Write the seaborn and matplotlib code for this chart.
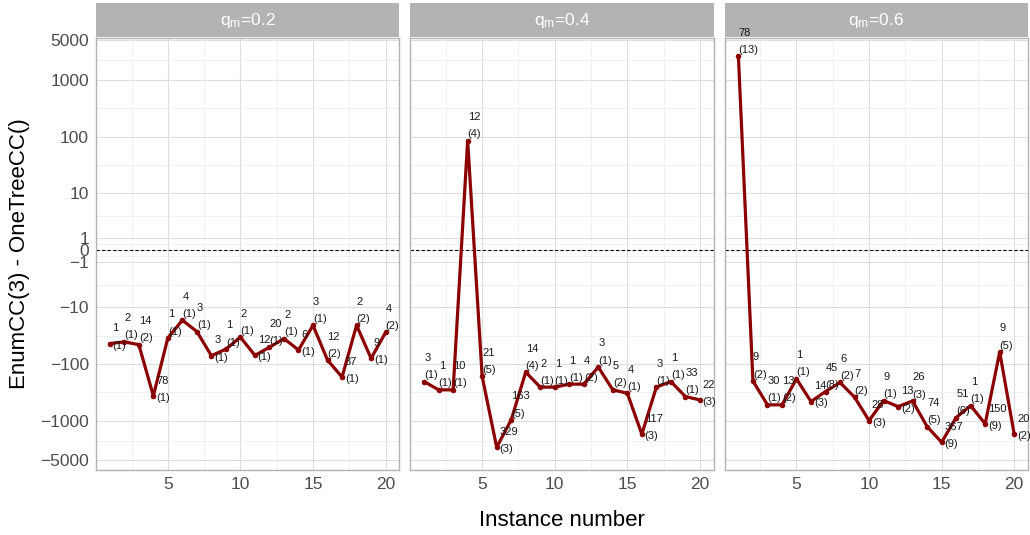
import numpy as np
import pandas as pd
import matplotlib
matplotlib.use("Agg")
import matplotlib.pyplot as plt
from matplotlib.patches import Rectangle
import seaborn as sns

# ---------------- data ----------------
instances = list(range(1, 21))
panel_names = ["0.2", "0.4", "0.6"]

diff_q02 = [-44, -41, -46, -366, -35, -17, -27, -72, -55, -34,
            -71, -51, -36, -57, -21, -86, -171, -21, -80, -28]
top_q02 = [1, 2, 14, 78, 1, 4, 3, 3, 1, 2, 12, 20, 2, 6, 3, 12, 37, 2, 9, 4]
cnt_q02 = [1, 1, 2, 1, 1, 1, 1, 1, 1, 1, 1, 1, 1, 1, 1, 2, 1, 2, 1, 2]

diff_q04 = [-205, -287, -287, 85, -167, -2939, -970, -140, -257, -257,
            -228, -228, -114, -287, -329, -1733, -257, -205, -377, -431]
top_q04 = [3, 1, 10, 12, 21, 329, 163, 14, 2, 1, 1, 4, 3, 5, 4, 117, 3, 1, 33, 22]
cnt_q04 = [1, 1, 1, 4, 5, 3, 5, 4, 1, 1, 1, 2, 1, 2, 1, 3, 1, 1, 1, 3]

diff_q06 = [2600, -200, -527, -527, -184, -461, -307, -213, -386, -997,
            -443, -565, -450, -1273, -2400, -883, -543, -1140, -62, -1733]
top_q06 = [78, 9, 30, 13, 1, 14, 45, 6, 7, 28, 9, 13, 26, 74, 367, 51, 1, 150, 9, 20]
cnt_q06 = [13, 2, 1, 2, 1, 3, 8, 2, 2, 3, 1, 2, 3, 5, 9, 6, 1, 9, 5, 2]

y_breaks = [-5000, -1000, -100, -10, -1, 0, 1, 10, 100, 1000, 5000]
y_labels = ["\u22125000", "\u22121000", "\u2212100", "\u221210", "\u22121", "0",
            "1", "10", "100", "1000", "5000"]
x_breaks = [5, 10, 15, 20]

frames = []
for name, d, t, c in zip(panel_names, [diff_q02, diff_q04, diff_q06],
                         [top_q02, top_q04, top_q06], [cnt_q02, cnt_q04, cnt_q06]):
    frames.append(pd.DataFrame({"instance": instances, "diff": d, "top": t,
                                "cnt": c, "qm": name}))
df = pd.concat(frames, ignore_index=True)

# ---------------- style ----------------
sns.set_theme(style="white")
plt.rcParams["font.family"] = ["Liberation Sans", "DejaVu Sans"]
plt.rcParams["mathtext.default"] = "regular"

LN10 = np.log(10)
def fwd(v):
    return np.arcsinh(np.asarray(v, dtype=float) / 2) / LN10
def inv(t):
    return 2 * np.sinh(np.asarray(t, dtype=float) * LN10)

LINE_COL = "#8B0000"
GRID_COL = "#DEDEDE"
BORDER_COL = "#B3B3B3"
TICK_TXT = "#4D4D4D"

g = sns.FacetGrid(df, col="qm", col_order=panel_names, sharey=True, sharex=True,
                  height=5.35, aspect=1.0, despine=False)
g.figure.set_size_inches(10.3, 5.35)
g.map_dataframe(sns.lineplot, x="instance", y="diff", color=LINE_COL,
                linewidth=2.3, zorder=3)
g.map_dataframe(sns.scatterplot, x="instance", y="diff", color=LINE_COL,
                s=16, edgecolor=LINE_COL, linewidth=0, zorder=4)
g.set_titles("")
g.figure.subplots_adjust(left=96/1030, right=1028/1030, top=1-38/535,
                         bottom=1-470/535, wspace=0.036)

tmin = fwd(df["diff"].min()); tmax = fwd(df["diff"].max())
ext = (tmax - tmin) * 0.05
ylim = (float(inv(tmin - ext - 0.056)), float(inv(tmax + ext - 0.025)))

tb = fwd(y_breaks)
y_minor = [float(inv((tb[i] + tb[i+1]) / 2)) for i in range(len(tb) - 1)]
x_minor = [2.5, 7.5, 12.5, 17.5]

for i, (ax, name) in enumerate(zip(g.axes.flat, panel_names)):
    sub = df[df["qm"] == name].reset_index(drop=True)
    ax.set_yscale("function", functions=(fwd, inv))
    ax.set_ylim(ylim)
    ax.set_xlim(0.05, 20.95)
    ax.set_yticks(y_breaks)
    ax.set_yticks(y_minor, minor=True)
    ax.set_xticks(x_breaks)
    ax.set_xticks(x_minor, minor=True)
    ax.set_xticklabels([str(v) for v in x_breaks])
    if i == 0:
        ax.set_yticklabels(y_labels)
    ax.grid(True, which="major", color=GRID_COL, linewidth=0.8, zorder=0)
    ax.grid(True, which="minor", color="#E8E8E8", linewidth=0.45, zorder=0)
    ax.set_axisbelow(True)
    for sp in ax.spines.values():
        sp.set_color(BORDER_COL)
        sp.set_linewidth(1.0)
    ax.tick_params(axis="both", which="major", colors=BORDER_COL, length=3,
                   width=0.7, labelcolor=TICK_TXT, labelsize=12.5, pad=2)
    ax.tick_params(axis="both", which="minor", length=0)
    if i > 0:
        ax.tick_params(axis="y", which="major", length=0)
    ax.axhline(0, color="black", linestyle=(0, (3, 2)), linewidth=0.8, zorder=2)
    ax.set_xlabel("")
    ax.set_ylabel("")

    # strip
    ax.add_patch(Rectangle((0, 1.002), 1, 0.079, transform=ax.transAxes,
                           clip_on=False, facecolor="#B3B3B3", edgecolor="none"))
    ax.text(0.5, 1.002 + 0.079/2, r"$\mathregular{q_{m}}$=" + name,
            transform=ax.transAxes, ha="center", va="center", color="white",
            fontsize=12.5)

    # labels
    vals = sub["diff"].tolist()
    for j in range(len(sub)):
        x = sub.loc[j, "instance"]; y = sub.loc[j, "diff"]
        txt = f"{sub.loc[j, 'top']}\n({sub.loc[j, 'cnt']})"
        prev_v = vals[j-1] if j > 0 else np.inf
        next_v = vals[j+1] if j < len(vals) - 1 else np.inf
        local_min = y < prev_v and y < next_v
        if local_min:
            off = (2, -5)
        else:
            off = (0, 1)
        ax.annotate(txt, (x, y), xytext=off, textcoords="offset points",
                    ha="left", va="bottom", fontsize=8, color="#1A1A1A",
                    linespacing=1.9, zorder=5)

g.figure.text((96 + 1028) / 2 / 1030, 1 - 520/535, "Instance number",
              ha="center", va="center", fontsize=16, color="black")
g.figure.text(20/1030, 1 - 254/535, "EnumCC(3) - OneTreeCC()", rotation=90,
              ha="center", va="center", fontsize=16, color="black")

g.figure.savefig("out.png", dpi=100)
